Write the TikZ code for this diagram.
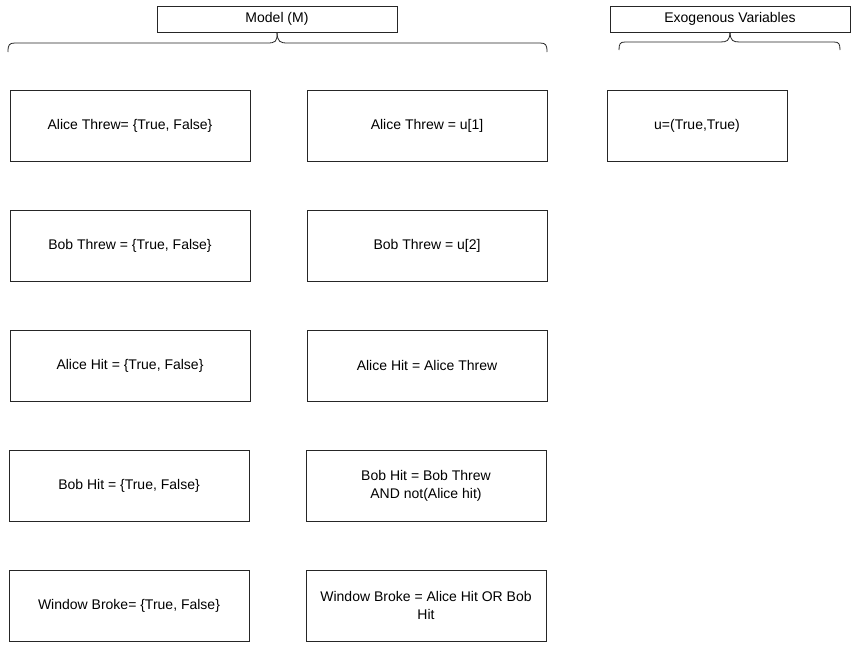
\documentclass[tikz,border=0pt]{standalone}
\usepackage{fontspec}
\setmainfont{Liberation Sans}
\begin{document}
\begin{tikzpicture}[x=1pt,y=-1pt,
  box/.style={draw=black!85, line width=0.8pt, fill=white, minimum width=240pt, minimum height=71pt, inner sep=2pt, align=center, font=\fontsize{14}{18}\selectfont, text=black},
  hdr/.style={draw=black!85, line width=0.8pt, fill=white, minimum width=240pt, minimum height=26pt, inner sep=1pt, font=\fontsize{14}{16}\selectfont},
  brace/.style={draw=black!85, line width=0.8pt}]
\useasboundingbox (0,0) rectangle (865,653);
\fill[white] (0,0) rectangle (865,653);
% headers
\node[hdr] (model) at (277,19) {Model (M)};
\node[hdr] (exo) at (730,19) {Exogenous Variables};
% braces
\draw[brace] (model.south) .. controls (277.5,42) and (280,43) .. (288,43) -- (540,43) .. controls (546,43) and (547,45) .. (547,52);
\draw[brace] (model.south) .. controls (277.5,42) and (275,43) .. (267,43) -- (15,43) .. controls (9,43) and (8,45) .. (8,52);
\draw[brace] (exo.south) .. controls (730.5,41) and (733,42) .. (740,42) -- (834,42) .. controls (839,42) and (840,44) .. (840,50);
\draw[brace] (exo.south) .. controls (729.5,41) and (727,42) .. (720,42) -- (625,42) .. controls (620,42) and (619,44) .. (619,50);
% left column
\node[box] (a1) at (130,125.5) {Alice Threw= \{True, False\}};
\node[box] (a2) at (130,245.5) {Bob Threw = \{True, False\}};
\node[box] (a3) at (130,365.5) {Alice Hit = \{True, False\}};
\node[box] (a4) at (129,485.5) {Bob Hit = \{True, False\}};
\node[box] (a5) at (129,605.5) {Window Broke= \{True, False\}};
% right column
\node[box] (b1) at (427,125.5) {Alice Threw = u[1]};
\node[box] (b2) at (427,245.5) {Bob Threw = u[2]};
\node[box] (b3) at (427,365.5) {Alice Hit = Alice Threw};
\node[box] (b4) at (426,485.5) {Bob Hit = Bob Threw\\AND not(Alice hit)};
\node[box] (b5) at (426,605.5) {Window Broke = Alice Hit OR Bob\\Hit};
% exogenous
\node[box, minimum width=180pt] (u) at (697,125.5) {u=(True,True)};
\end{tikzpicture}
\end{document}
